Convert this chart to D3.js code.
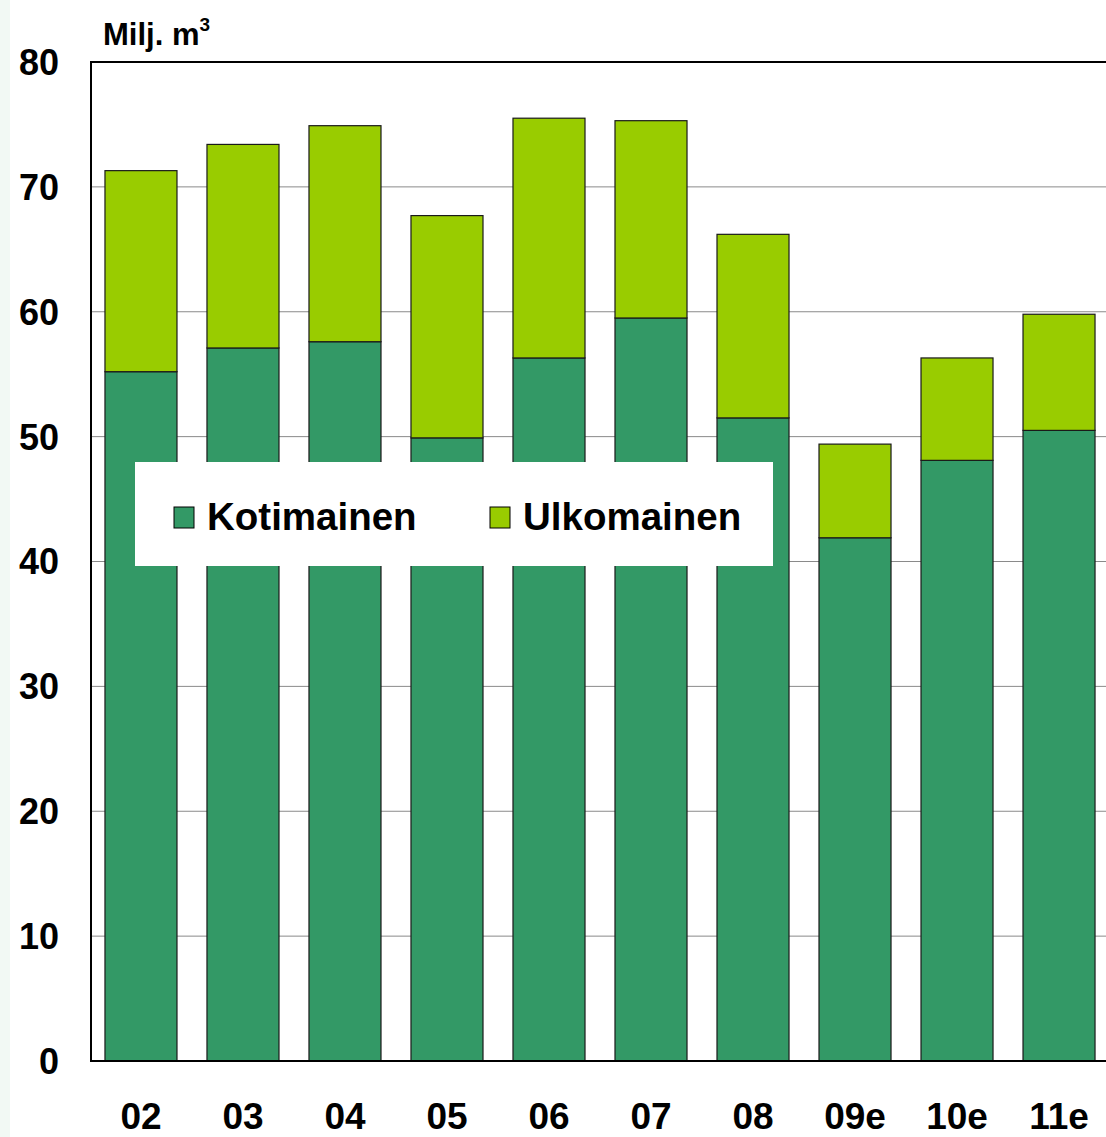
<!DOCTYPE html>
<html>
<head>
<meta charset="utf-8">
<script src="https://cdn.jsdelivr.net/npm/d3@7"></script>
<style>
    body { margin: 0; background: #fff; }
    text { font-family: Arial, "Liberation Sans", sans-serif; font-weight: bold; fill: #000; }
</style>
</head>
<body>
<script>
// Data
// =================================
var years = ["02", "03", "04", "05", "06", "07", "08", "09e", "10e", "11e"];
var kotimainen = [55.2, 57.1, 57.6, 49.9, 56.3, 59.5, 51.5, 41.9, 48.1, 50.5];
var ulkomainen = [16.1, 16.3, 17.3, 17.8, 19.2, 15.8, 14.7, 7.5, 8.2, 9.3];
var yTicks = [0, 10, 20, 30, 40, 50, 60, 70, 80];
var seriesNames = ["Kotimainen", "Ulkomainen"];
var seriesColors = ["#339966", "#99cc00"];

// SVG area
// =================================
var svgWidth = 1106;
var svgHeight = 1137;

var svg = d3.select("body")
    .append("svg")
    .attr("width", svgWidth)
    .attr("height", svgHeight);

// faint strip at the left edge
svg.append("rect")
    .attr("x", 0).attr("y", 0)
    .attr("width", 10).attr("height", svgHeight)
    .attr("fill", "#f2f9f4");

var plotLeft = 91, plotTop = 62, plotBottom = 1061;

var xScale = d3.scaleBand()
    .domain(years)
    .range([plotLeft, 1109])
    .paddingInner(0.294)
    .paddingOuter(0.137);

var yScale = d3.scaleLinear()
    .domain([0, 80])
    .range([plotBottom, plotTop]);

// gridlines
svg.append("g")
    .selectAll("line")
    .data(yTicks.filter(d => d > 0 && d < 80))
    .enter()
    .append("line")
    .attr("x1", plotLeft)
    .attr("x2", svgWidth)
    .attr("y1", d => yScale(d))
    .attr("y2", d => yScale(d))
    .attr("stroke", "#8a8a8a")
    .attr("stroke-width", 1);

// stacked bars
var stacked = years.map(function (y, i) {
    return { year: y, Kotimainen: kotimainen[i], Ulkomainen: ulkomainen[i] };
});
var stack = d3.stack().keys(seriesNames)(stacked);

svg.append("g")
    .selectAll("g")
    .data(stack)
    .enter()
    .append("g")
    .attr("fill", (d, i) => seriesColors[i])
    .selectAll("rect")
    .data(d => d)
    .enter()
    .append("rect")
    .attr("x", d => xScale(d.data.year))
    .attr("y", d => yScale(d[1]))
    .attr("width", xScale.bandwidth())
    .attr("height", d => yScale(d[0]) - yScale(d[1]))
    .attr("stroke", "#1a1a1a")
    .attr("stroke-width", 1.2);

// top frame line and axes
svg.append("line")
    .attr("x1", plotLeft).attr("x2", svgWidth)
    .attr("y1", yScale(80)).attr("y2", yScale(80))
    .attr("stroke", "#000").attr("stroke-width", 2);

svg.append("line")
    .attr("x1", plotLeft).attr("x2", svgWidth)
    .attr("y1", yScale(0)).attr("y2", yScale(0))
    .attr("stroke", "#000").attr("stroke-width", 2);

svg.append("line")
    .attr("x1", plotLeft).attr("x2", plotLeft)
    .attr("y1", yScale(80) - 1).attr("y2", yScale(0) + 1)
    .attr("stroke", "#000").attr("stroke-width", 2);

// y tick labels
svg.append("g")
    .selectAll("text")
    .data(yTicks)
    .enter()
    .append("text")
    .attr("x", 59)
    .attr("y", d => yScale(d))
    .attr("dy", "0.36em")
    .attr("text-anchor", "end")
    .style("font-size", "36px")
    .text(d => d);

// x tick labels
svg.append("g")
    .selectAll("text")
    .data(years)
    .enter()
    .append("text")
    .attr("x", d => xScale(d) + xScale.bandwidth() / 2)
    .attr("y", 1129)
    .attr("text-anchor", "middle")
    .style("font-size", "37px")
    .text(d => d);

// unit label
var unit = svg.append("text")
    .attr("x", 103)
    .attr("y", 45)
    .style("font-size", "31px")
    .text("Milj. m");
unit.append("tspan")
    .attr("dy", -14)
    .style("font-size", "19px")
    .text("3");

// legend
var legend = svg.append("g");
legend.append("rect")
    .attr("x", 135).attr("y", 462)
    .attr("width", 638).attr("height", 104)
    .attr("fill", "#fff");

var legendX = [174, 490];
seriesNames.forEach(function (name, i) {
    legend.append("rect")
        .attr("x", legendX[i]).attr("y", 507)
        .attr("width", 20).attr("height", 21)
        .attr("fill", seriesColors[i])
        .attr("stroke", "#000").attr("stroke-width", 1);
    legend.append("text")
        .attr("x", legendX[i] + 33)
        .attr("y", 530)
        .style("font-size", "38.5px")
        .text(name);
});
</script>
</body>
</html>
